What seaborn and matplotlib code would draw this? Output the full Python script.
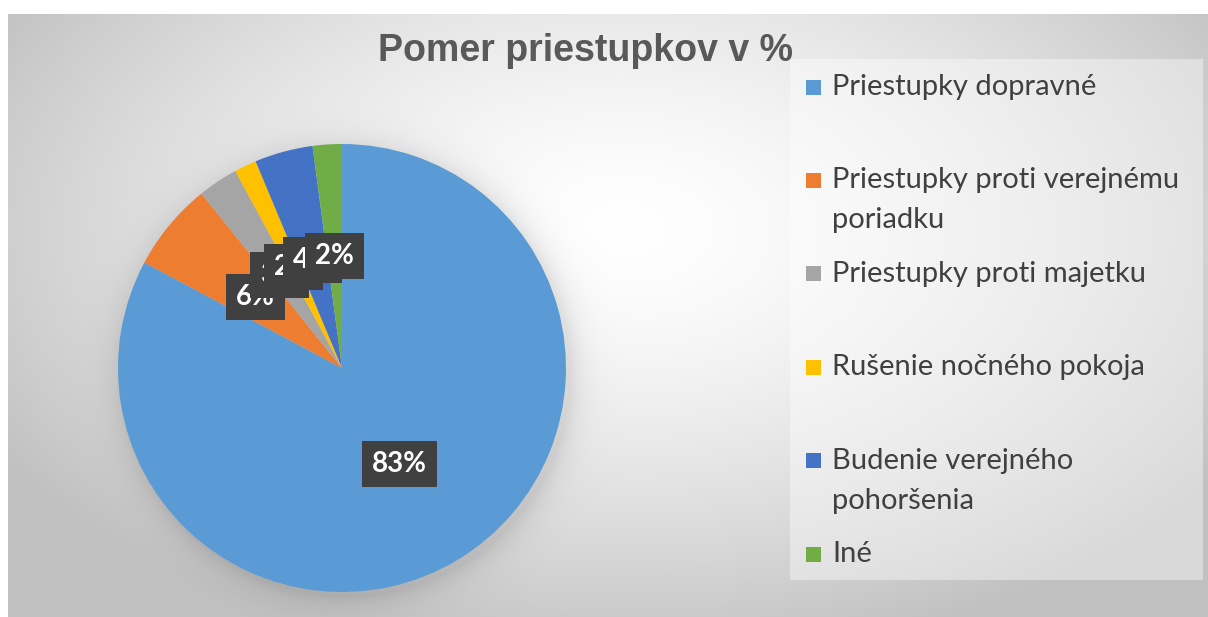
import numpy as np
import matplotlib
matplotlib.use("Agg")
import matplotlib.pyplot as plt
import seaborn as sns
from matplotlib.patches import Rectangle

sns.set_theme(style="white")
plt.rcParams['font.family'] = ['Lato', 'DejaVu Sans']

# data
categories = ["Priestupky dopravné", "Priestupky proti verejnému\nporiadku",
              "Priestupky proti majetku", "Rušenie nočného pokoja",
              "Budenie verejného\npohoršenia", "Iné"]
shares = [82.8, 6.4, 2.9, 1.6, 4.2, 2.1]
colors = ["#5B9BD5", "#ED7D31", "#A5A5A5", "#FFC000", "#4472C4", "#70AD47"]
title = "Pomer priestupkov v %"

W, H = 1208, 617
fig = plt.figure(figsize=(W / 100, H / 100), dpi=100)
fig.patch.set_facecolor("white")

# background: chart area with radial grey gradient
bg = fig.add_axes([0, 0, 1, 1])
bg.set_xlim(0, W)
bg.set_ylim(H, 0)
bg.axis("off")
yy, xx = np.mgrid[14:H, 8:W]
d = np.sqrt(((xx - 620) / 720.0) ** 2 + ((yy - 230) / 430.0) ** 2)
t = np.clip(d, 0, 1) ** 1.5
# soft shadow around the pie
dp = np.sqrt((xx - 346) ** 2 + (yy - 372) ** 2) - 224
shade = np.where(dp > 0, np.exp(-dp / 14.0), 1.0) * 0.10
val = 1.0 - 0.24 * t - shade
bg.imshow(np.dstack([val, val, val]), extent=(8, W, H, 14), aspect="auto",
          interpolation="bilinear", zorder=0)
bg.add_patch(Rectangle((790, 59), 413, 521, facecolor="white", alpha=0.4,
                       edgecolor="none", zorder=1))

# title
fig.text(585 / W, 1 - 51 / H, title, ha="center", va="center",
         fontsize=27, fontweight="bold", color="#595959",
         family=["Liberation Sans", "DejaVu Sans"])

# pie
cx, cy, r = 342, 368, 224
ax = fig.add_axes([(cx - r) / W, (H - cy - r) / H, 2 * r / W, 2 * r / H])
wedges, texts, autotexts = ax.pie(
    shares, colors=colors, startangle=90, counterclock=False,
    autopct="%1.0f%%", pctdistance=0.5,
    wedgeprops=dict(linewidth=0),
    textprops=dict(color="white", fontsize=20, fontweight="bold"))
for at in autotexts:
    at.set_bbox(dict(boxstyle="square,pad=0.36", facecolor="#404040",
                     edgecolor="none"))
ax.set_xlim(-1, 1)
ax.set_ylim(-1, 1)
ax.set_aspect("equal")

# legend
for i, (lab, col) in enumerate(zip(categories, colors)):
    y0 = 87 + i * 93.4
    bg.add_patch(Rectangle((806, y0 - 7.5), 15, 15, facecolor=col,
                           edgecolor="none", zorder=2))
    for j, line in enumerate(lab.split("\n")):
        bg.text(832, y0 + j * 40, line, ha="left", va="center",
                fontsize=21, color="#404040", zorder=3)

fig.savefig("out.png", dpi=100)
